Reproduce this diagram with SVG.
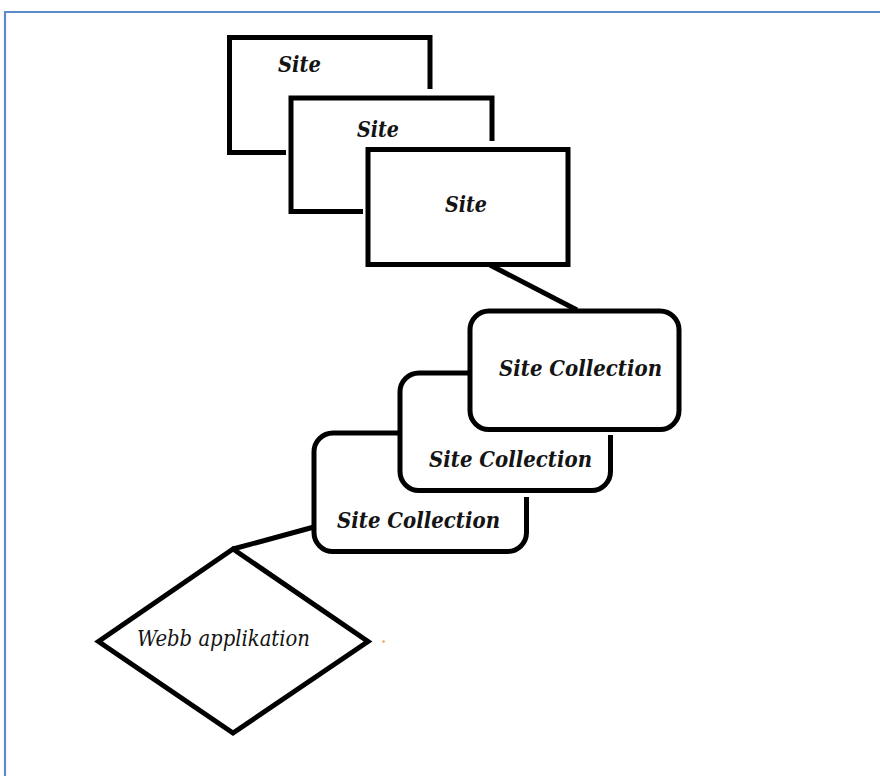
<svg xmlns="http://www.w3.org/2000/svg" width="880" height="776" viewBox="0 0 880 776">
  <defs>
    <style>
      .frame { fill: none; stroke: #5b8bc9; stroke-width: 2.2; }
      .edge { fill: none; stroke: #000; stroke-width: 5; stroke-linejoin: miter; stroke-linecap: butt; }
      .link { fill: none; stroke: #000; stroke-width: 5; stroke-linecap: butt; }
      .label { font-family: "DejaVu Serif Condensed", "DejaVu Serif", "Liberation Serif", serif; font-stretch: condensed; font-style: italic; font-weight: bold; font-size: 23px; fill: #141414; }
      .label.light { font-weight: normal; }
    </style>
  </defs>
  <rect x="0" y="0" width="880" height="776" fill="#fff"/>

  <!-- page frame (top and left rules) -->
  <path class="frame" d="M5,776 V12 H880"/>

  <!-- connectors -->
  <g id="connectors">
    <path class="link" d="M490,265 L577,310"/>
    <path class="link" d="M314,527 L233,549"/>
  </g>

  <!-- stacked sites (rear ones drawn only where visible) -->
  <g id="site-1">
    <path class="edge" d="M430,89 V37.5 H229.5 V152.5 H286"/>
    <text class="label" x="278" y="72" textLength="43" lengthAdjust="spacingAndGlyphs">Site</text>
  </g>
  <g id="site-2">
    <path class="edge" d="M492,141 V98 H291 V211.5 H363"/>
    <text class="label" x="357" y="137" textLength="42" lengthAdjust="spacingAndGlyphs">Site</text>
  </g>
  <g id="site-3">
    <rect class="edge" x="368" y="149.5" width="200" height="115"/>
    <text class="label" x="445" y="212" textLength="42" lengthAdjust="spacingAndGlyphs">Site</text>
  </g>

  <!-- stacked site collections -->
  <g id="site-collection-1">
    <rect class="edge" x="470" y="311" width="209" height="118.5" rx="19" ry="19"/>
    <text class="label" x="499" y="376" textLength="163" lengthAdjust="spacingAndGlyphs">Site Collection</text>
  </g>
  <g id="site-collection-2">
    <path class="edge" d="M470,373 H419 A19,19 0 0 0 400,392 V471.5 A19,19 0 0 0 419,490.5 H591.5 A19,19 0 0 0 610.5,471.5 V435"/>
    <text class="label" x="429" y="467" textLength="163" lengthAdjust="spacingAndGlyphs">Site Collection</text>
  </g>
  <g id="site-collection-3">
    <path class="edge" d="M400,433 H333 A19,19 0 0 0 314,452 V532.5 A19,19 0 0 0 333,551.5 H507.5 A19,19 0 0 0 526.5,532.5 V497"/>
    <text class="label" x="337" y="528" textLength="163" lengthAdjust="spacingAndGlyphs">Site Collection</text>
  </g>

  <!-- web application -->
  <g id="web-application">
    <polygon class="edge" stroke-width="4.5" points="233,549 368,641.5 233,733 98.5,641.5"/>
    <text class="label light" x="137" y="646" textLength="173" lengthAdjust="spacingAndGlyphs">Webb applikation</text>
  </g>

  <!-- small stray mark right of the diamond -->
  <circle cx="383.5" cy="641.5" r="1.3" fill="#f2a25a"/>
</svg>
